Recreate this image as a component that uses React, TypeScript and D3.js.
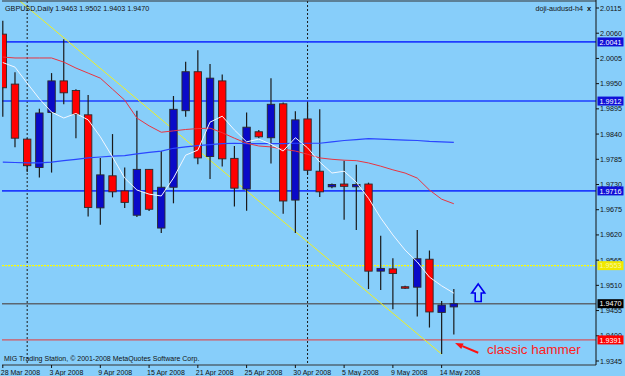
import React from 'react';
import * as d3 from 'd3';

// ---- data ----
const opens = [2.0058,1.9949,1.9829,1.9767,1.9887,1.9956,1.9935,1.9882,1.9679,1.9749,1.9716,1.9663,1.9763,1.9635,1.9724,1.9891,1.9976,1.9791,1.9956,1.9787,1.9720,1.9845,1.9832,1.9906,1.9696,1.9873,1.9759,1.9725,1.9731,1.9725,1.9731,1.9541,1.9546,1.9507,1.9506,1.9567,1.9451,1.9463];
const highs = [2.0087,1.9975,1.9831,1.9895,1.9973,2.0047,1.9938,1.9925,1.9788,1.9840,1.9767,1.9891,1.9764,1.9803,1.9923,1.9998,2.0023,1.9993,1.9970,1.9814,1.9887,1.9849,1.9962,1.9909,1.9890,1.9909,1.9894,1.9732,1.9782,1.9773,1.9734,1.9618,1.9569,1.9509,1.9631,1.9586,1.9476,1.9502];
const lows = [1.9878,1.9811,1.9757,1.9745,1.9756,1.9905,1.9831,1.9660,1.9642,1.9702,1.9679,1.9659,1.9672,1.9624,1.9689,1.9878,1.9774,1.9742,1.9769,1.9682,1.9673,1.9831,1.9776,1.9666,1.9624,1.9751,1.9703,1.9722,1.9653,1.9631,1.9502,1.9500,1.9458,1.9502,1.9442,1.9418,1.9360,1.9403];
const closes = [1.9941,1.9831,1.9771,1.9886,1.9956,1.9930,1.9883,1.9680,1.9751,1.9714,1.9691,1.9763,1.9676,1.9724,1.9894,1.9976,1.9788,1.9962,1.9786,1.9722,1.9855,1.9834,1.9905,1.9694,1.9871,1.9761,1.9714,1.9730,1.9726,1.9730,1.9541,1.9547,1.9536,1.9504,1.9568,1.9452,1.9467,1.9470];

const maFast = [1.9996,1.9986,1.9951,1.9917,1.9888,1.9875,1.9885,1.9871,1.9834,1.9790,1.9744,1.9718,1.9709,1.9705,1.9744,1.9794,1.9805,1.9866,1.9879,1.9849,1.9823,1.9829,1.9818,1.9803,1.9832,1.9810,1.9779,1.9755,1.9759,1.9735,1.9700,1.9657,1.9620,1.9587,1.9561,1.9528,1.9509,1.9493];
const maMid = [2.0008,2.0006,2.0006,2.0006,2.0006,1.9997,1.9984,1.9973,1.9962,1.9938,1.9914,1.9875,1.9858,1.9844,1.9847,1.9850,1.9852,1.9853,1.9843,1.9831,1.9820,1.9814,1.9812,1.9807,1.9803,1.9796,1.9788,1.9785,1.9783,1.9782,1.9777,1.9770,1.9762,1.9755,1.9744,1.9718,1.9698,1.9688];
const maSlow = [1.9779,1.9778,1.9777,1.9777,1.9779,1.9782,1.9785,1.9788,1.9790,1.9792,1.9793,1.9797,1.9800,1.9803,1.9809,1.9812,1.9815,1.9817,1.9819,1.9820,1.9819,1.9819,1.9819,1.9819,1.9820,1.9820,1.9820,1.9823,1.9826,1.9828,1.9830,1.9829,1.9828,1.9827,1.9826,1.9824,1.9823,1.9822];

const dateTickIdx = [0,4,8,12,16,20,24,28,32,36];
const dateTickLabels = ['28 Mar 2008','3 Apr 2008','9 Apr 2008','15 Apr 2008','21 Apr 2008','25 Apr 2008','30 Apr 2008','5 May 2008','9 May 2008','14 May 2008'];
const separatorIdx = [2, 25];
const priceTicks = [2.0115,2.0060,2.0005,1.9950,1.9895,1.9840,1.9785,1.9730,1.9675,1.9620,1.9565,1.9510,1.9455,1.9400,1.9345];

const levelPrices = [2.0041, 1.9912, 1.9716, 1.9553, 1.9470, 1.9391];
const levelLabels = ['2.0041','1.9912','1.9716','1.9553','1.9470','1.9391'];
const levelColors = ['#1e3cff','#1e3cff','#1e3cff','#ffff00','#5c6670','#e83838'];
const levelBoxColors = ['#1010d8','#1010d8','#1010d8','#f0e800','#000000','#ff0000'];
const levelTextColors = ['#ffffff','#ffffff','#ffffff','#f8f8a0','#ffffff','#ffffff'];
const levelDash = ['', '', '', '2,1', '', ''];

const trendIdx = [1.41, 36];
const trendPrice = [2.0130, 1.9360];

const upArrowIdx = 39; const upArrowPrice = 1.9513;
const noteArrowFrom = [39.0, 1.9363]; const noteArrowTo = [37.1, 1.9384];
const noteText = 'classic hammer';
const titleText = 'GBPUSD,Daily  1.9463 1.9502 1.9403 1.9470';

const W = 625, H = 376;
const PL = 2, PT = 1, PR = 596, PB = 365;
const FONT = 'Liberation Sans, Arial, sans-serif';

export default function App() {
  const x = d3.scaleLinear().domain([0, 37]).range([2.8, 2.8 + 37 * 12.19]);
  const y = d3.scaleLinear().domain([1.9345, 2.0115]).range([361, 8]);
  const idx = d3.range(opens.length);
  const line = (arr: number[]) => d3.line<number>().x((_, i) => x(i)).y(d => y(d))(arr) || '';

  const ax = x(upArrowIdx), ay = y(upArrowPrice);
  const upArrow = `M${ax},${ay} L${ax + 6.5},${ay + 9} L${ax + 3},${ay + 9} L${ax + 3},${ay + 17.5} L${ax - 3},${ay + 17.5} L${ax - 3},${ay + 9} L${ax - 6.5},${ay + 9} Z`;

  const fx = x(noteArrowFrom[0]), fy = y(noteArrowFrom[1]);
  const tx = x(noteArrowTo[0]), ty = y(noteArrowTo[1]);
  const ang = Math.atan2(fy - ty, fx - tx);
  const hl = 8, hw = 3;
  const bx = tx + Math.cos(ang) * hl, by = ty + Math.sin(ang) * hl;
  const head = `M${tx},${ty} L${bx - Math.sin(ang) * hw},${by + Math.cos(ang) * hw} L${bx + Math.sin(ang) * hw},${by - Math.cos(ang) * hw} Z`;

  return (
    <svg width={W} height={H} style={{ position: 'fixed', left: 0, top: 0, display: 'block' }} fontFamily={FONT}>
      <defs>
        <clipPath id="plot"><rect x={PL} y={PT} width={PR - PL} height={PB - PT} /></clipPath>
      </defs>
      <rect x={0} y={0} width={W} height={H} fill="#87cefa" />
      <g clipPath="url(#plot)">
        {separatorIdx.map((s, i) => (
          <line key={'sep' + i} x1={x(s)} x2={x(s)} y1={PT} y2={PB} stroke="#1a1a1a" strokeWidth={1} strokeDasharray="2,2" />
        ))}
        {levelPrices.map((p, i) => (
          <line key={'lv' + i} x1={PL} x2={PR} y1={y(p)} y2={y(p)} stroke={levelColors[i]}
            strokeWidth={i === 5 ? 1 : (i === 3 ? 1.3 : 1.6)} strokeDasharray={levelDash[i] || undefined} />
        ))}
        <line x1={x(trendIdx[0])} y1={y(trendPrice[0])} x2={x(trendIdx[1])} y2={y(trendPrice[1])} stroke="#f0f020" strokeWidth={1} />
        {idx.map(i => {
          const up = closes[i] >= opens[i];
          const top = y(Math.max(opens[i], closes[i]));
          const bot = y(Math.min(opens[i], closes[i]));
          const cx = x(i);
          return (
            <g key={'c' + i}>
              <line x1={cx} x2={cx} y1={y(highs[i])} y2={y(lows[i])} stroke="#1a1a1a" strokeWidth={1.2} />
              <rect x={cx - 3.7} y={top} width={7.4} height={Math.max(bot - top, 1.5)}
                fill={up ? '#0a0ac8' : '#ff0000'} stroke="#2a2a2a" strokeWidth={0.9} />
            </g>
          );
        })}
        <path d={line(maSlow)} fill="none" stroke="#2a46ff" strokeWidth={1.2} />
        <path d={line(maMid)} fill="none" stroke="#ea3440" strokeWidth={1} />
        <path d={line(maFast)} fill="none" stroke="#f4f8ff" strokeWidth={1} />
        <path d={upArrow} fill="#9fd8ff" stroke="#0000ee" strokeWidth={1.6} strokeLinejoin="miter" />
        <line x1={fx} y1={fy} x2={bx} y2={by} stroke="#ff1010" strokeWidth={2} />
        <path d={head} fill="#ff1010" />
        <text x={487} y={354} fontSize={13.5} fill="#ff2020">{noteText}</text>
      </g>
      {/* frame */}
      <line x1={PL} x2={PR} y1={PT} y2={PT} stroke="#333" strokeWidth={1} />
      <line x1={PL} x2={PR} y1={PB} y2={PB} stroke="#333" strokeWidth={1} />
      <line x1={PR} x2={PR} y1={0} y2={PB} stroke="#111" strokeWidth={1} />
      {/* price axis */}
      {priceTicks.map((p, i) => (
        <g key={'pt' + i}>
          <line x1={PR} x2={PR + 3} y1={y(p)} y2={y(p)} stroke="#111" />
          <text x={600} y={y(p) + 2.5} fontSize={7.2} fill="#111">{p.toFixed(4)}</text>
        </g>
      ))}
      {levelPrices.map((p, i) => (
        <g key={'lb' + i}>
          <rect x={597.5} y={y(p) - 4.5} width={26} height={9} fill={levelBoxColors[i]} />
          <text x={599.5} y={y(p) + 2.6} fontSize={7.2} fill={levelTextColors[i]}>{levelLabels[i]}</text>
        </g>
      ))}
      {/* date axis */}
      {dateTickIdx.map((d, i) => (
        <g key={'dt' + i}>
          <line x1={x(d)} x2={x(d)} y1={PB} y2={PB + 3} stroke="#111" />
          <text x={x(d) - 2} y={374.5} fontSize={7} fill="#111">{dateTickLabels[i]}</text>
        </g>
      ))}
      <text x={5} y={10.5} fontSize={7.2} fill="#111">{titleText}</text>
      <text x={583} y={10.5} fontSize={7.2} fill="#111" textAnchor="end">doji-audusd-h4</text>
      <text x={587} y={10.5} fontSize={7.5} fontWeight="bold" fill="#111">x</text>
      <text x={4} y={361} fontSize={7} fill="#111">MIG Trading Station, © 2001-2008 MetaQuotes Software Corp.</text>
    </svg>
  );
}
